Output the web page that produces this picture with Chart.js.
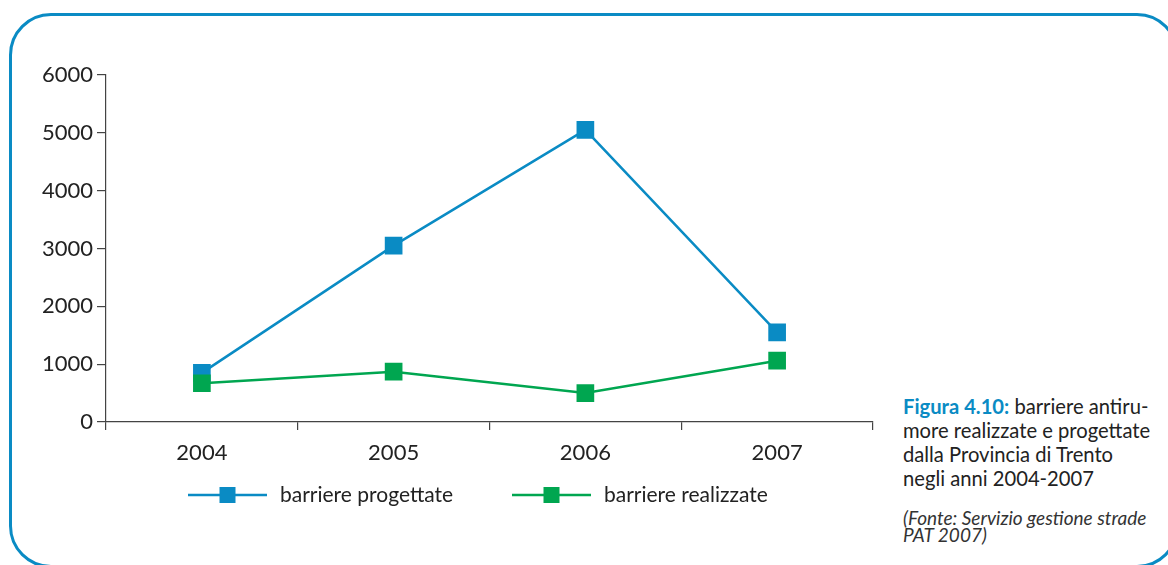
<!DOCTYPE html>
<html>
<head>
<meta charset="utf-8">
<script src="https://cdn.jsdelivr.net/npm/chart.js@4"></script>
<style>
  html, body { margin:0; padding:0; background:#fff; width:1168px; height:565px; overflow:hidden; }
  #frame { position:absolute; left:9px; top:13px; width:1170px; height:555px; border:3px solid #0a8bc4; border-radius:42px; box-sizing:border-box; }
  #wrap { position:absolute; left:0; top:0; width:900px; height:520px; }
  #caption { position:absolute; left:903px; top:394px; font-family:Lato, "Open Sans", sans-serif; font-size:20.2px; line-height:24px; color:#222; white-space:nowrap; }
  #caption b { color:#0a8bc4; font-weight:bold; }
  #source { position:absolute; left:903px; top:509px; font-family:Lato, "Open Sans", sans-serif; font-style:italic; font-size:19px; line-height:17px; color:#333; white-space:nowrap; }
</style>
</head>
<body>
<div id="frame"></div>
<div id="wrap"><canvas id="c"></canvas></div>
<div id="caption"><b>Figura 4.10:</b> barriere antiru-<br>more realizzate e progettate<br>dalla Provincia di Trento<br>negli anni 2004-2007</div>
<div id="source">(Fonte: Servizio gestione strade<br>PAT 2007)</div>
<script>
const years = ['2004', '2005', '2006', '2007'];
const progettate = [850, 3050, 5050, 1550];
const realizzate = [670, 870, 500, 1060];
const seriesNames = ['barriere progettate', 'barriere realizzate'];
const seriesColors = ['#0a8bc4', '#00a650'];

const FONT = 'Lato, "Open Sans", sans-serif';

const legendPlugin = {
  id: 'lineLegend',
  afterDraw(chart) {
    const ctx = chart.ctx;
    const y = 495;
    const starts = [188, 512];
    ctx.save();
    chart.data.datasets.forEach((ds, i) => {
      const x0 = starts[i];
      ctx.strokeStyle = ds.borderColor;
      ctx.lineWidth = 2.5;
      ctx.beginPath();
      ctx.moveTo(x0, y);
      ctx.lineTo(x0 + 79, y);
      ctx.stroke();
      ctx.fillStyle = ds.backgroundColor;
      ctx.fillRect(x0 + 39.5 - 8, y - 8, 16, 16);
      ctx.fillStyle = '#222';
      ctx.font = '21px ' + FONT;
      ctx.textBaseline = 'middle';
      ctx.textAlign = 'left';
      ctx.fillText(ds.label, x0 + 92, y);
    });
    ctx.restore();
  }
};

new Chart(document.getElementById('c'), {
  type: 'line',
  data: {
    labels: years,
    datasets: [
      { label: seriesNames[0], data: progettate, borderColor: seriesColors[0], backgroundColor: seriesColors[0], order: 1,
        borderWidth: 2.5, pointStyle: 'rect', pointRadius: 12.5, pointHoverRadius: 12.5, pointBorderWidth: 0, tension: 0 },
      { label: seriesNames[1], data: realizzate, borderColor: seriesColors[1], backgroundColor: seriesColors[1], order: 0,
        borderWidth: 2.5, pointStyle: 'rect', pointRadius: 12.5, pointHoverRadius: 12.5, pointBorderWidth: 0, tension: 0 }
    ]
  },
  options: {
    responsive: true,
    maintainAspectRatio: false,
    animation: false,
    layout: { padding: { top: 75, right: 27, left: 0, bottom: 0 } },
    plugins: { legend: { display: false }, tooltip: { enabled: false } },
    scales: {
      x: {
        offset: true,
        grid: { offset: true, drawOnChartArea: false, drawTicks: true, tickLength: 8, color: '#444', lineWidth: 1.2 },
        border: { display: true, color: '#444', width: 1.2 },
        ticks: { color: '#222', font: { family: FONT, size: 22 }, padding: 10 },
        afterFit(s) { s.height = 98; }
      },
      y: {
        min: 0, max: 6000,
        grid: { drawOnChartArea: false, drawTicks: true, tickLength: 9, color: '#444', lineWidth: 1.2 },
        border: { display: true, color: '#444', width: 1.2 },
        ticks: { stepSize: 1000, color: '#222', font: { family: FONT, size: 22 }, padding: 4,
                 callback: (v) => String(v) },
        afterFit(s) { s.width = 106; }
      }
    }
  },
  plugins: [legendPlugin]
});
</script>
</body>
</html>
